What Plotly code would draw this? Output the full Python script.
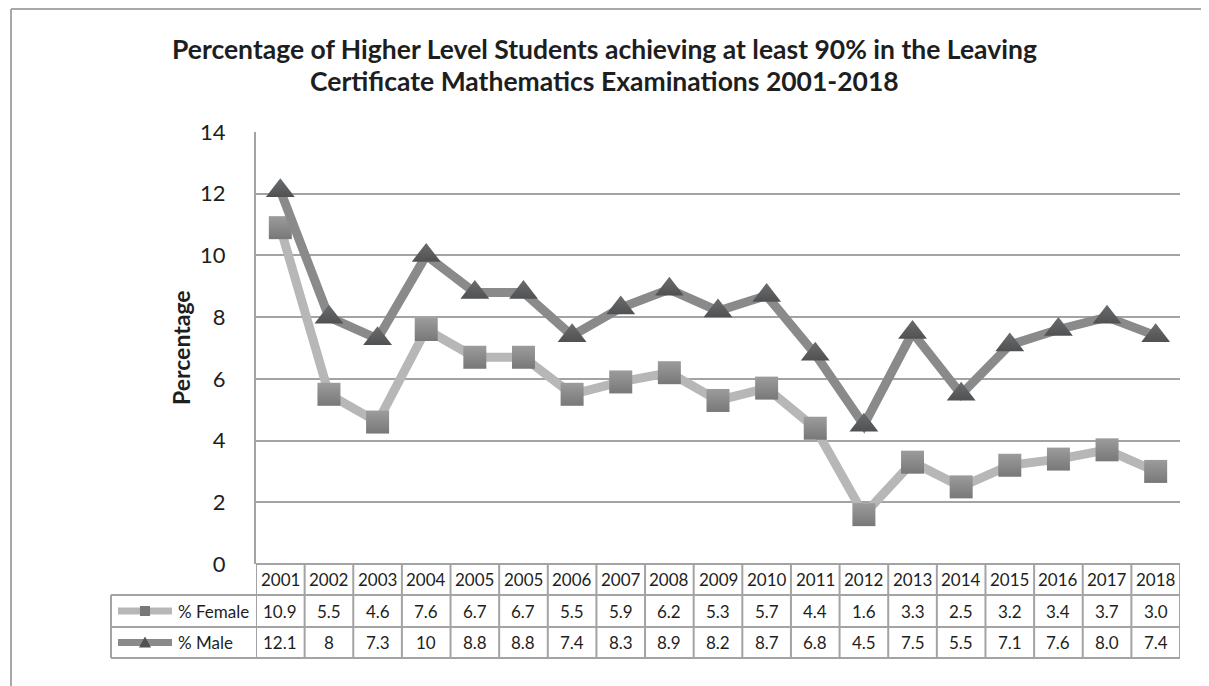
import plotly.graph_objects as go

# ---- data ----
years = ["2001", "2002", "2003", "2004", "2005", "2005", "2006", "2007", "2008", "2009",
         "2010", "2011", "2012", "2013", "2014", "2015", "2016", "2017", "2018"]
female = [10.9, 5.5, 4.6, 7.6, 6.7, 6.7, 5.5, 5.9, 6.2, 5.3, 5.7, 4.4, 1.6, 3.3, 2.5, 3.2, 3.4, 3.7, 3.0]
male = [12.1, 8, 7.3, 10, 8.8, 8.8, 7.4, 8.3, 8.9, 8.2, 8.7, 6.8, 4.5, 7.5, 5.5, 7.1, 7.6, 8.0, 7.4]
female_text = ["10.9", "5.5", "4.6", "7.6", "6.7", "6.7", "5.5", "5.9", "6.2", "5.3", "5.7",
               "4.4", "1.6", "3.3", "2.5", "3.2", "3.4", "3.7", "3.0"]
male_text = ["12.1", "8", "7.3", "10", "8.8", "8.8", "7.4", "8.3", "8.9", "8.2", "8.7",
             "6.8", "4.5", "7.5", "5.5", "7.1", "7.6", "8.0", "7.4"]
series_names = ["% Female", "% Male"]
y_ticks = [0, 2, 4, 6, 8, 10, 12, 14]

title_l1 = "Percentage of Higher Level Students achieving at least 90% in the Leaving"
title_l2 = "Certificate Mathematics Examinations 2001-2018"

# ---- geometry (reference page pixels) ----
W, H = 1209, 686
OFF = 8                                 # page body margin
PL, PR, PT, PB = 256, 1180, 132, 564   # plot area
pw, ph = PR - PL, PB - PT
rows_px = [564, 595, 627, 658]          # table horizontal lines
leg_left = 111

def px_x(p):
    return (p - PL) / pw

def px_y(p):
    return (PB - p) / ph

FONT = "Lato"
GRID = "#a3a3a3"
TXT = "#1e1e1e"

F_LINE, F_MARK, F_MARK2 = "#b7b7b7", "#9c9c9c", "#787878"
M_LINE, M_MARK, M_MARK2 = "#8a8a8a", "#6a6c6e", "#4f5153"

xs = list(range(len(years)))

fig = go.Figure()
fig.add_trace(go.Scatter(
    x=xs, y=female, mode="lines+markers", name=series_names[0],
    line=dict(color=F_LINE, width=9),
    marker=dict(symbol="square", size=23, color=F_MARK,
                gradient=dict(type="vertical", color=F_MARK2),
                line=dict(width=0)),
    cliponaxis=False, showlegend=False))
fig.add_trace(go.Scatter(
    x=xs, y=male, mode="lines+markers", name=series_names[1],
    line=dict(color=M_LINE, width=9),
    marker=dict(symbol="triangle-up", size=25, color=M_MARK,
                gradient=dict(type="vertical", color=M_MARK2),
                line=dict(width=0)),
    cliponaxis=False, showlegend=False))

shapes = []
annotations = []

# outer chart border (top & left)
shapes.append(dict(type="line", xref="paper", yref="paper",
                   x0=px_x(11), x1=px_x(W + 5), y0=px_y(9), y1=px_y(9),
                   line=dict(color="#a8a8a8", width=2)))
shapes.append(dict(type="line", xref="paper", yref="paper",
                   x0=px_x(11), x1=px_x(11), y0=px_y(9), y1=px_y(H + 5),
                   line=dict(color="#a8a8a8", width=2)))

# table horizontal lines
shapes.append(dict(type="line", xref="paper", yref="paper",
                   x0=0, x1=1, y0=px_y(rows_px[0]), y1=px_y(rows_px[0]),
                   line=dict(color=GRID, width=2)))
for r in rows_px[1:]:
    shapes.append(dict(type="line", xref="paper", yref="paper",
                       x0=px_x(leg_left), x1=1, y0=px_y(r), y1=px_y(r),
                       line=dict(color=GRID, width=2)))
# legend column left edge
shapes.append(dict(type="line", xref="paper", yref="paper",
                   x0=px_x(leg_left), x1=px_x(leg_left),
                   y0=px_y(rows_px[1]), y1=px_y(rows_px[3]),
                   line=dict(color=GRID, width=2)))
# column dividers
for i in range(len(years) + 1):
    shapes.append(dict(type="line", xref="x", yref="paper",
                       x0=i - 0.5, x1=i - 0.5,
                       y0=px_y(rows_px[0]), y1=px_y(rows_px[3]),
                       line=dict(color=GRID, width=2)))

# table text
row_centers = [(rows_px[k] + rows_px[k + 1]) / 2 for k in range(3)]
for i, yr in enumerate(years):
    for txt, rc in ((yr, row_centers[0]), (female_text[i], row_centers[1]), (male_text[i], row_centers[2])):
        annotations.append(dict(x=i, y=px_y(rc), xref="x", yref="paper", text=txt,
                                showarrow=False, xanchor="center", yanchor="middle",
                                font=dict(family=FONT, size=17, color=TXT)))

# legend keys inside table
for k, (nm, lc, mc, sym) in enumerate(((series_names[0], F_LINE, F_MARK2, "sq"),
                                        (series_names[1], M_LINE, M_MARK2, "tri"))):
    rc = row_centers[k + 1]
    shapes.append(dict(type="line", xref="paper", yref="paper",
                       x0=px_x(118), x1=px_x(172), y0=px_y(rc), y1=px_y(rc),
                       line=dict(color=lc, width=7)))
    if sym == "sq":
        shapes.append(dict(type="rect", xref="paper", yref="paper",
                           x0=px_x(140), x1=px_x(150), y0=px_y(rc - 5), y1=px_y(rc + 5),
                           fillcolor=mc, line=dict(width=0)))
    else:
        path = "M {a},{b} L {c},{b} L {d},{e} Z".format(
            a=px_x(139), c=px_x(151), d=px_x(145), b=px_y(rc + 5), e=px_y(rc - 6))
        shapes.append(dict(type="path", xref="paper", yref="paper", path=path,
                           fillcolor=mc, line=dict(width=0)))
    annotations.append(dict(x=px_x(176), y=px_y(rc), xref="paper", yref="paper", text=nm,
                            showarrow=False, xanchor="left", yanchor="middle",
                            font=dict(family=FONT, size=17, color=TXT)))

# title
annotations.append(dict(x=px_x(604), y=px_y(49), xref="paper", yref="paper",
                        text="<b>" + title_l1 + "</b>", showarrow=False,
                        xanchor="center", yanchor="middle",
                        font=dict(family=FONT, size=26.5, color=TXT)))
annotations.append(dict(x=px_x(604), y=px_y(81), xref="paper", yref="paper",
                        text="<b>" + title_l2 + "</b>", showarrow=False,
                        xanchor="center", yanchor="middle",
                        font=dict(family=FONT, size=26.5, color=TXT)))
# y axis title
annotations.append(dict(x=px_x(181), y=px_y(348), xref="paper", yref="paper",
                        text="<b>Percentage</b>", textangle=-90, showarrow=False,
                        xanchor="center", yanchor="middle",
                        font=dict(family=FONT, size=23, color=TXT)))

fig.update_layout(
    width=W - OFF, height=H - OFF,
    margin=dict(l=PL - OFF, r=W - PR, t=PT - OFF, b=H - PB, pad=0),
    paper_bgcolor="white", plot_bgcolor="white",
    shapes=shapes, annotations=annotations,
    xaxis=dict(range=[-0.5, len(years) - 0.5], showticklabels=False, showgrid=False,
               zeroline=False, showline=False, ticks=""),
    yaxis=dict(range=[0, 14], tickvals=y_ticks, showgrid=True, gridcolor=GRID, gridwidth=2,
               zeroline=False, showline=True, linecolor=GRID, linewidth=2,
               ticks="", ticklabelstandoff=24,
               tickfont=dict(family=FONT, size=22, color=TXT)),
)

fig.write_html("out.html")
